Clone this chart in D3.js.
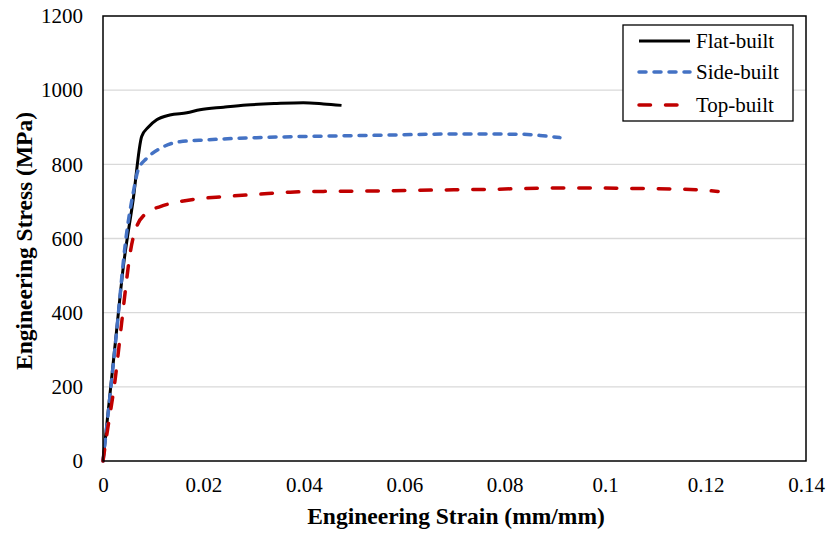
<!DOCTYPE html>
<html>
<head>
<meta charset="utf-8">
<script src="https://cdn.jsdelivr.net/npm/d3@7"></script>
<style>
  html, body { margin: 0; padding: 0; background: #fff; }
  svg { display: block; }
  text { font-family: "Liberation Serif", "Times New Roman", serif; fill: #000; }
</style>
</head>
<body>
<svg id="chart" width="829" height="533"></svg>
<script>
// Engineering stress-strain curves for three build orientations
const flatStrain = [0, 0.0010, 0.0025, 0.00405, 0.0060, 0.0077, 0.0090, 0.0107, 0.0133, 0.0167, 0.0193, 0.0240, 0.0286, 0.0346, 0.0399, 0.0439, 0.0475];
const flatStress = [0, 130, 325, 524, 704, 875, 900, 920, 933, 939, 947, 954, 960, 964, 966, 963, 959];

const sideStrain = [0, 0.0010, 0.0025, 0.0047, 0.0060, 0.0070, 0.0087, 0.0114, 0.0153, 0.0207, 0.0306, 0.0439, 0.0532, 0.0718, 0.0837, 0.0870, 0.0910];
const sideStress = [0, 125, 320, 614, 722, 785, 816, 843, 861, 866, 872, 876, 878, 882, 881, 878, 872];

const topStrain = [0, 0.0007, 0.0024, 0.0037, 0.0047, 0.0054, 0.0067, 0.0090, 0.0114, 0.0173, 0.0240, 0.0306, 0.0373, 0.0439, 0.0525, 0.0678, 0.0784, 0.0890, 0.0990, 0.1050, 0.1156, 0.1225];
const topStress = [0, 66, 218, 371, 488, 560, 632, 672, 686, 704, 713, 719, 725, 727, 728, 731, 733, 736, 736, 735, 733, 727];

const seriesNames = ["Flat-built", "Side-built", "Top-built"];
const xTicks = [0, 0.02, 0.04, 0.06, 0.08, 0.1, 0.12, 0.14];
const yTicks = [0, 200, 400, 600, 800, 1000, 1200];

const series = [
  { name: seriesNames[0], x: flatStrain, y: flatStress, color: "#000000", width: 3, dash: null, cap: "butt" },
  { name: seriesNames[1], x: sideStrain, y: sideStress, color: "#4472C4", width: 3.5, dash: "7,8", cap: "round" },
  { name: seriesNames[2], x: topStrain, y: topStress, color: "#C00000", width: 3.5, dash: "11.5,15", cap: "round" }
];

const svg = d3.select("#chart");
const m = { left: 103, top: 16, right: 806, bottom: 461 };

const x = d3.scaleLinear().domain([0, 0.14]).range([m.left, m.right]);
const y = d3.scaleLinear().domain([0, 1200]).range([m.bottom, m.top]);

// horizontal gridlines
svg.append("g")
  .selectAll("line")
  .data(yTicks.filter(v => v > 0 && v < 1200))
  .join("line")
  .attr("x1", m.left).attr("x2", m.right)
  .attr("y1", d => y(d)).attr("y2", d => y(d))
  .attr("stroke", "#d9d9d9").attr("stroke-width", 1.3);

// y axis labels
const yAxis = d3.axisLeft(y).tickValues(yTicks).tickSize(0).tickPadding(20)
  .tickFormat(d3.format("d"));
svg.append("g")
  .attr("transform", `translate(${m.left},0)`)
  .call(yAxis)
  .call(g => g.select(".domain").remove())
  .call(g => g.selectAll("text")
    .style("font-family", "'Liberation Serif', serif")
    .style("font-size", "21px")
    .attr("fill", "#000"));

// x axis labels
const xAxis = d3.axisBottom(x).tickValues(xTicks).tickSize(0).tickPadding(16)
  .tickFormat(d => d === 0 ? "0" : String(+d.toFixed(2)));
svg.append("g")
  .attr("transform", `translate(0,${m.bottom})`)
  .call(xAxis)
  .call(g => g.select(".domain").remove())
  .call(g => g.selectAll("text")
    .style("font-family", "'Liberation Serif', serif")
    .style("font-size", "21px")
    .attr("fill", "#000"));

// curves
const line = d3.line().curve(d3.curveMonotoneX);
svg.append("g")
  .selectAll("path")
  .data(series)
  .join("path")
  .attr("d", s => line(s.x.map((v, i) => [x(v), y(s.y[i])])))
  .attr("fill", "none")
  .attr("stroke", s => s.color)
  .attr("stroke-width", s => s.width)
  .attr("stroke-dasharray", s => s.dash)
  .attr("stroke-linecap", s => s.cap)
  .attr("stroke-linejoin", "round");

// plot frame
svg.append("rect")
  .attr("x", m.left).attr("y", m.top)
  .attr("width", m.right - m.left).attr("height", m.bottom - m.top)
  .attr("fill", "none").attr("stroke", "#000").attr("stroke-width", 1.5);

// axis titles
svg.append("text")
  .attr("x", 456).attr("y", 524)
  .attr("text-anchor", "middle")
  .style("font-size", "23.5px").style("font-weight", "bold")
  .text("Engineering Strain (mm/mm)");

svg.append("text")
  .attr("transform", "translate(32,241) rotate(-90)")
  .attr("text-anchor", "middle")
  .style("font-size", "23.5px").style("font-weight", "bold")
  .text("Engineering Stress (MPa)");

// legend
const lg = svg.append("g").attr("transform", "translate(623,25)");
lg.append("rect").attr("width", 170).attr("height", 96)
  .attr("fill", "#fff").attr("stroke", "#000").attr("stroke-width", 1.3);
const rowY = [16, 47, 80];
series.forEach((s, i) => {
  lg.append("line")
    .attr("x1", 16).attr("x2", 67)
    .attr("y1", rowY[i]).attr("y2", rowY[i])
    .attr("stroke", s.color).attr("stroke-width", s.width)
    .attr("stroke-dasharray", s.dash).attr("stroke-linecap", s.cap);
  lg.append("text")
    .attr("x", 73).attr("y", rowY[i] + 6.5)
    .style("font-size", "21px")
    .text(s.name);
});
</script>
</body>
</html>
